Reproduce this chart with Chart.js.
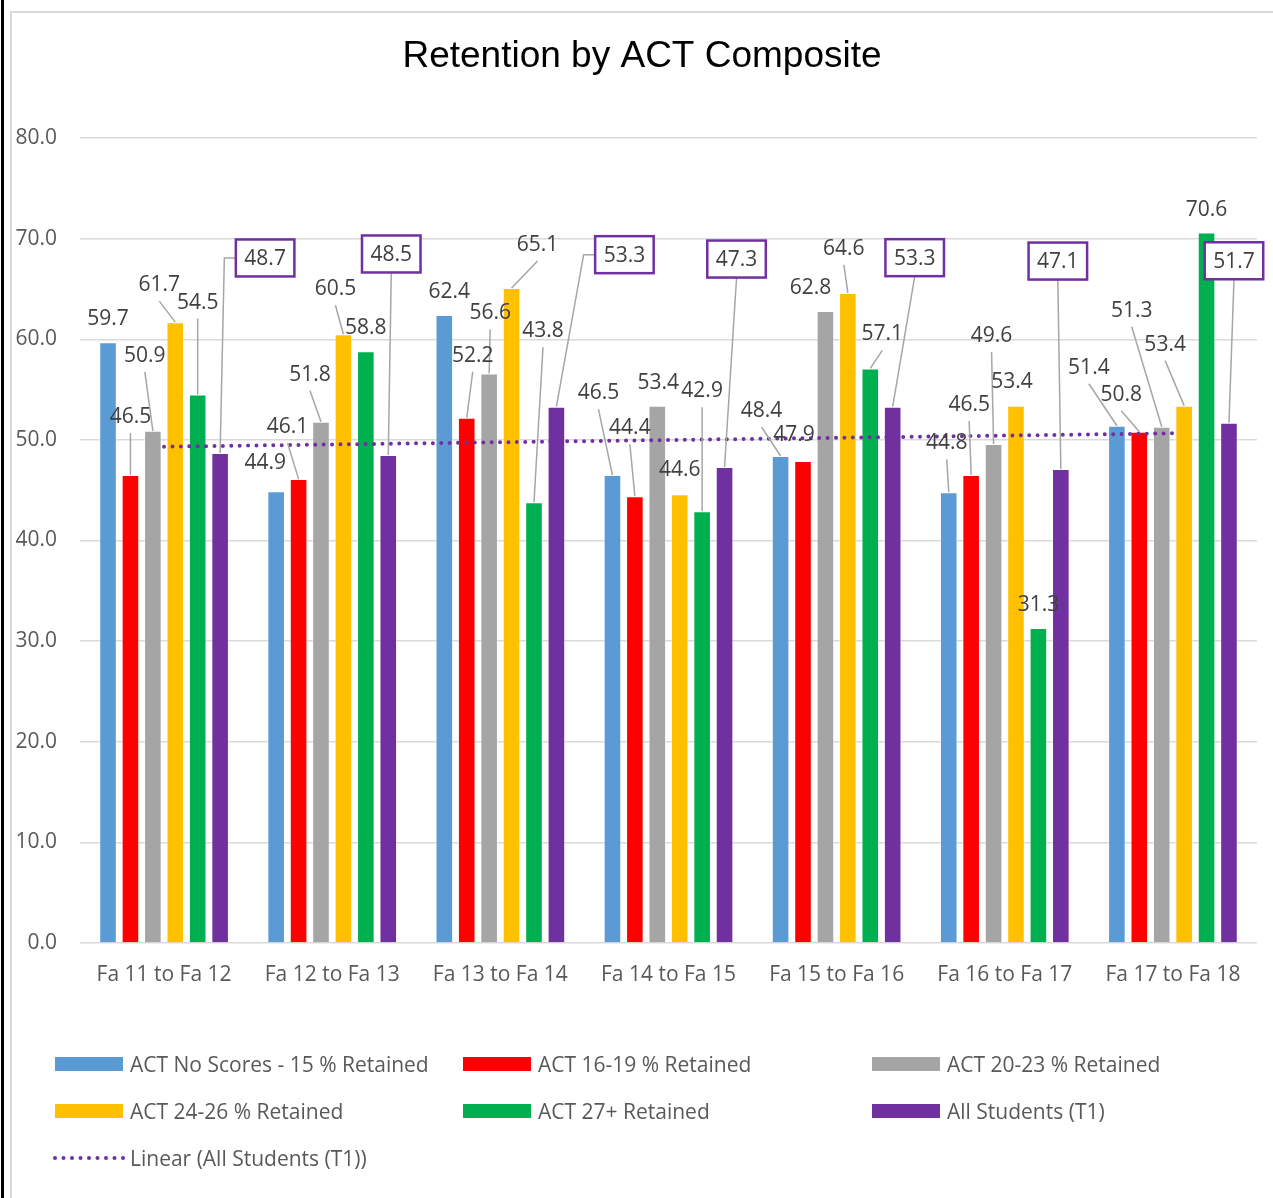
<!DOCTYPE html>
<html>
<head>
<meta charset="utf-8">
<title>Retention by ACT Composite</title>
<script src="https://cdn.jsdelivr.net/npm/chart.js@4.4.1/dist/chart.umd.min.js"></script>
<style>
  html, body { margin: 0; padding: 0; background: #fff; }
  #wrap { width: 1273px; height: 1198px; }
</style>
</head>
<body>
<div id="wrap"><canvas id="retention-chart" width="1273" height="1198"></canvas></div>
<script>
const categories = ['Fa 11 to Fa 12', 'Fa 12 to Fa 13', 'Fa 13 to Fa 14', 'Fa 14 to Fa 15', 'Fa 15 to Fa 16', 'Fa 16 to Fa 17', 'Fa 17 to Fa 18'];

const noScores = [59.7, 44.9, 62.4, 46.5, 48.4, 44.8, 51.4];
const act1619 = [46.5, 46.1, 52.2, 44.4, 47.9, 46.5, 50.8];
const act2023 = [50.9, 51.8, 56.6, 53.4, 62.8, 49.6, 51.3];
const act2426 = [61.7, 60.5, 65.1, 44.6, 64.6, 53.4, 53.4];
const act27 = [54.5, 58.8, 43.8, 42.9, 57.1, 31.3, 70.6];
const allStudents = [48.7, 48.5, 53.3, 47.3, 53.3, 47.1, 51.7];

const yMin = 0;
const yMax = 80;
const yStep = 10;

// least squares fit of the All Students series (Excel "Linear" trendline)
function linearTrend(values) {
    const n = values.length;
    const mx = (n + 1) / 2;
    const my = values.reduce((a, b) => a + b, 0) / n;
    let sxy = 0, sxx = 0;
    values.forEach((v, i) => {
        sxy += (i + 1 - mx) * (v - my);
        sxx += (i + 1 - mx) * (i + 1 - mx);
    });
    const slope = sxy / sxx;
    return values.map((v, i) => my + slope * (i + 1 - mx));
}

// where each value label sits, relative to the top of its bar: [dx, dy, leader anchor]
const labelSpots = [
    [[0, -24, 0], [-11, -29, 0], [5, -24, 0], [-14, -83, 'b'], [-19, -46, 'b'], [-2, -50, 'b'], [-28, -59, 'b']],
    [[0, -59, 'b'], [-11, -53, 'b'], [6, -63, 'b'], [-5, -69, 'b'], [-9, -27, 0], [-2, -71, 'b'], [-18, -38, 'b']],
    [[-8, -76, 'b'], [-11, -48, 'b'], [1, -61, 'b'], [1, -24, 0], [-15, -24, 0], [-2, -109, 'b'], [-30, -117, 'b']],
    [[-16, -38, 'b'], [-8, -46, 'b'], [26, -44, 'b'], [0, -25, 0], [-4, -45, 'b'], [-4, -25, 0], [-19, -62, 'b']],
    [[0, -93, 'b'], [0, -24, 0], [9, -172, 'b'], [0, -121, 'b'], [12, -35, 'b'], [0, -24, 0], [0, -24, 0]],
    [[45, -195, 'l'], [3, -201, 'b'], [68, -152, 'l'], [12, -208, 'b'], [22, -149, 'b'], [-3, -208, 'b'], [5, -162, 'b']]
];

const FONT = "'Open Sans', 'Noto Sans', sans-serif";
const TEXT_GREY = '#595959';
const LABEL_GREY = '#404040';
const GRID = '#d9d9d9';
const PURPLE = '#7030A0';

const framePlugin = {
    id: 'frame',
    beforeDraw(chart) {
        const ctx = chart.ctx;
        ctx.save();
        ctx.fillStyle = '#fff';
        ctx.fillRect(0, 0, chart.width, chart.height);
        ctx.fillStyle = '#000';
        ctx.fillRect(1, 0, 3, chart.height);
        ctx.fillStyle = GRID;
        ctx.fillRect(10, 11, 2, chart.height - 11);
        ctx.fillRect(10, 11, chart.width - 10, 2);

        ctx.fillStyle = '#000';
        ctx.font = "37px 'Liberation Sans', Arial, sans-serif";
        ctx.textAlign = 'center';
        ctx.textBaseline = 'middle';
        ctx.fillText('Retention by ACT Composite', 642, 57);
        ctx.restore();
    }
};

const valueLabelPlugin = {
    id: 'valueLabels',
    afterDatasetsDraw(chart) {
        const ctx = chart.ctx;
        ctx.save();
        ctx.font = '21px ' + FONT;
        ctx.textAlign = 'center';
        ctx.textBaseline = 'middle';

        const items = [];
        chart.data.datasets.forEach((ds, di) => {
            if (ds.type === 'line') return;
            const meta = chart.getDatasetMeta(di);
            meta.data.forEach((bar, j) => {
                const spot = labelSpots[di][j];
                const text = ds.data[j].toFixed(1);
                const w = ctx.measureText(text).width;
                items.push({
                    bar, text, w,
                    cx: bar.x + spot[0],
                    cy: bar.y + spot[1],
                    anchor: spot[2],
                    boxed: di === 5
                });
            });
        });

        // leader lines first
        ctx.strokeStyle = '#a6a6a6';
        ctx.lineWidth = 1.5;
        items.forEach(it => {
            if (!it.anchor) return;
            const halfH = it.boxed ? 19 : 17;
            const halfW = it.boxed ? it.w / 2 + 9 : it.w / 2 + 4;
            ctx.beginPath();
            if (it.anchor === 'l') {
                ctx.moveTo(it.cx - halfW, it.cy);
                ctx.lineTo(it.cx - halfW - 11, it.cy);
            } else {
                ctx.moveTo(it.cx, it.cy + halfH);
            }
            ctx.lineTo(it.bar.x, it.bar.y);
            ctx.stroke();
        });

        items.forEach(it => {
            if (it.boxed) {
                const bw = it.w + 17, bh = 37;
                ctx.fillStyle = '#fff';
                ctx.fillRect(it.cx - bw / 2, it.cy - bh / 2, bw, bh);
                ctx.strokeStyle = PURPLE;
                ctx.lineWidth = 2.5;
                ctx.strokeRect(it.cx - bw / 2, it.cy - bh / 2, bw, bh);
            }
            ctx.fillStyle = LABEL_GREY;
            ctx.fillText(it.text, it.cx, it.cy + 1);
        });
        ctx.restore();
    }
};

const legendPlugin = {
    id: 'gridLegend',
    afterDraw(chart) {
        const ctx = chart.ctx;
        const colX = [55, 463, 872];
        const rowY = [1064, 1111, 1158];
        ctx.save();
        ctx.font = '21px ' + FONT;
        ctx.textAlign = 'left';
        ctx.textBaseline = 'middle';
        chart.data.datasets.forEach((ds, i) => {
            const x = colX[i % 3];
            const y = rowY[Math.floor(i / 3)];
            if (ds.type === 'line') {
                ctx.fillStyle = ds.borderColor;
                for (let k = 0; k < 9; k++) {
                    ctx.beginPath();
                    ctx.arc(x + k * 8.5, y, 2, 0, Math.PI * 2);
                    ctx.fill();
                }
            } else {
                ctx.fillStyle = ds.backgroundColor;
                ctx.fillRect(x, y - 7, 68, 14);
            }
            ctx.fillStyle = TEXT_GREY;
            ctx.fillText(ds.label, x + 75, y + 2);
        });
        ctx.restore();
    }
};

function barSet(label, data, color) {
    return {
        type: 'bar',
        label: label,
        data: data,
        backgroundColor: color,
        borderColor: 'rgba(255,255,255,0.45)',
        borderWidth: 1,
        categoryPercentage: 0.8,
        barPercentage: 0.785,
        order: 1
    };
}

const ctx = document.getElementById('retention-chart').getContext('2d');
new Chart(ctx, {
    type: 'bar',
    data: {
        labels: categories,
        datasets: [
            barSet('ACT No Scores - 15 % Retained', noScores, '#5B9BD5'),
            barSet('ACT 16-19 % Retained', act1619, '#FF0000'),
            barSet('ACT 20-23 % Retained', act2023, '#A5A5A5'),
            barSet('ACT 24-26 % Retained', act2426, '#FFC000'),
            barSet('ACT 27+ Retained', act27, '#00B050'),
            barSet('All Students (T1)', allStudents, PURPLE),
            {
                type: 'line',
                label: 'Linear (All Students (T1))',
                data: linearTrend(allStudents),
                borderColor: PURPLE,
                borderWidth: 4,
                borderDash: [0, 8.4],
                borderCapStyle: 'round',
                pointRadius: 0,
                fill: false,
                order: 0
            }
        ]
    },
    options: {
        responsive: false,
        animation: false,
        layout: { padding: { left: 0, top: 138, right: 16, bottom: 0 } },
        plugins: {
            legend: { display: false },
            title: { display: false },
            tooltip: { enabled: false }
        },
        scales: {
            x: {
                grid: { display: false },
                border: { display: false },
                ticks: { color: TEXT_GREY, font: { family: FONT, size: 21 }, padding: 11, maxRotation: 0 },
                afterFit(scale) { scale.height = 255; }
            },
            y: {
                min: yMin,
                max: yMax,
                grid: { color: GRID, lineWidth: 1.5, drawTicks: false },
                border: { display: false },
                ticks: {
                    stepSize: yStep,
                    color: TEXT_GREY,
                    font: { family: FONT, size: 21 },
                    padding: 23,
                    callback: v => v.toFixed(1)
                },
                afterFit(scale) { scale.width = 80; }
            }
        }
    },
    plugins: [framePlugin, valueLabelPlugin, legendPlugin]
});
</script>
</body>
</html>
